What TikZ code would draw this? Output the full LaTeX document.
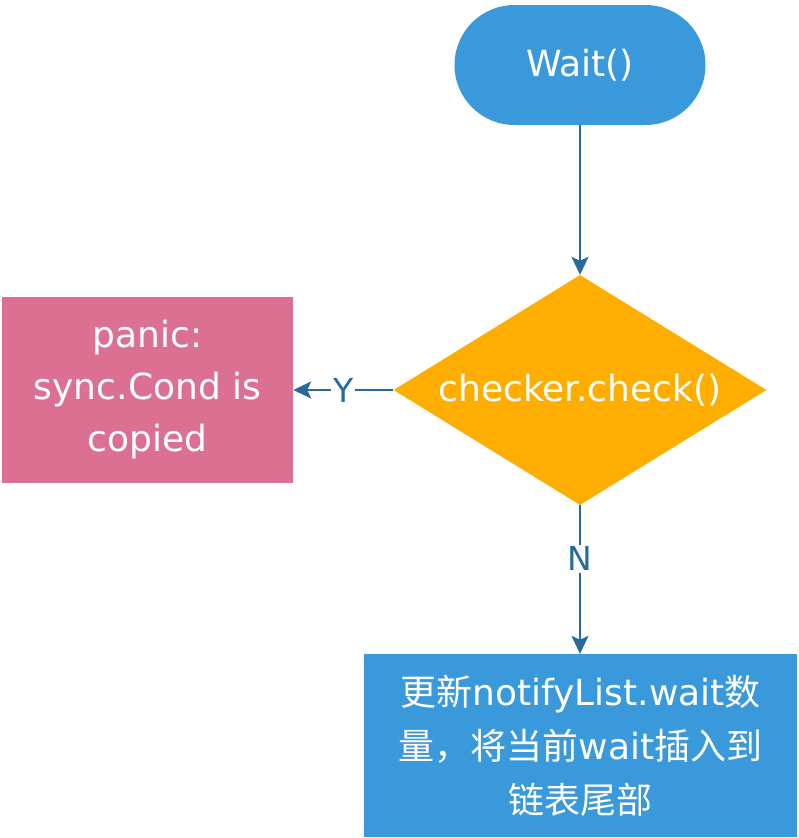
\documentclass[tikz,border=0pt]{standalone}
\usepackage{fontspec}
\setmainfont{DejaVu Sans}
\newfontfamily\cjk{Noto Sans CJK SC}
\usetikzlibrary{shapes.geometric,shapes.misc,arrows.meta}
\definecolor{boxblue}{HTML}{3A99DA}
\definecolor{decor}{HTML}{FDAE00}
\definecolor{pinkbox}{HTML}{DC7092}
\definecolor{linecol}{HTML}{276A9C}
\begin{document}
\begin{tikzpicture}[x=1pt,y=-1pt,
  txt/.style={text=white,font=\fontsize{36}{52}\selectfont,align=center},
  conn/.style={draw=linecol,line width=1.8pt,-{Stealth[length=18pt,width=17pt,inset=4pt]}},
  lbl/.style={text=linecol,font=\fontsize{33}{36}\selectfont,fill=white,inner sep=2pt}]
\useasboundingbox (0,0) rectangle (798,838);
\node[txt,fill=boxblue,rounded rectangle,minimum width=251pt,minimum height=120pt,inner sep=0pt] (wait) at (580,65) {Wait()};
\node[txt,fill=decor,diamond,minimum width=373pt,minimum height=230pt,inner sep=0pt,aspect=1.62] (check) at (580,390) {checker.check()};
\node[txt,fill=pinkbox,minimum width=291pt,minimum height=186pt,inner sep=0pt] (panic) at (147.5,390) {panic:\\sync.Cond is\\copied};
\node[txt,fill=boxblue,minimum width=433pt,minimum height=183pt,inner sep=0pt,font=\fontsize{36}{54}\selectfont] (upd) at (580.5,745.5) {{\cjk 更新}notifyList.wait{\cjk 数}\\{\cjk 量，将当前}wait{\cjk 插入到}\\{\cjk 链表尾部}};
\draw[conn] (wait.south) -- (check.north);
\draw[conn] (check.west) -- node[lbl] {Y} (panic.east);
\draw[conn] (check.south) -- node[lbl,pos=0.36] {N} (check.south |- upd.north);
\end{tikzpicture}
\end{document}
